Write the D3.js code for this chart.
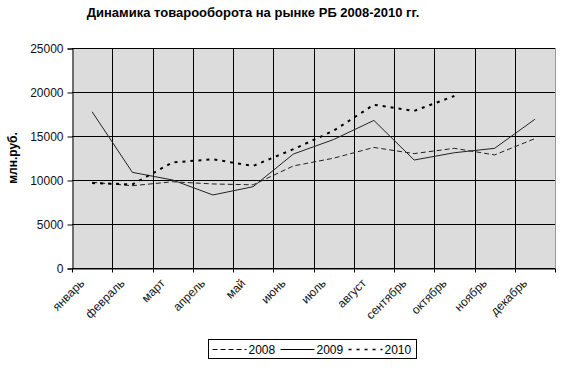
<!DOCTYPE html>
<html>
<head>
<meta charset="utf-8">
<script src="https://cdn.jsdelivr.net/npm/d3@7"></script>
<style>
body { margin: 0; background: #fff; }
text { font-family: "Liberation Sans", Arial, sans-serif; }
</style>
</head>
<body>
<div id="chart"></div>
<script>
const months = ['январь', 'февраль', 'март', 'апрель', 'май', 'июнь', 'июль', 'август', 'сентябрь', 'октябрь', 'ноябрь', 'декабрь']
const yTicks = [0, 5000, 10000, 15000, 20000, 25000]

const s2008 = [9740, 9350, 9800, 9550, 9450, 11600, 12480, 13700, 13000, 13600, 12850, 14700]
const s2009 = [17750, 10870, 10000, 8300, 9240, 12950, 14600, 16770, 12270, 13100, 13600, 16900]
const s2010 = [9650, 9500, 12000, 12350, 11600, 13500, 15600, 18550, 17850, 19550, null, null]

const series = [
    { name: '2008', values: s2008, dash: '5,3' },
    { name: '2009', values: s2009, dash: null },
    { name: '2010', values: s2010, dash: '3,5' }
]

const W = 572, H = 369
const margin = { left: 72, right: 17, top: 48, bottom: 101 }

const svg = d3.select('#chart').append('svg')
    .attr('width', W)
    .attr('height', H)

const x = d3.scaleBand()
    .domain(months)
    .range([margin.left, W - margin.right])

const y = d3.scaleLinear()
    .domain([0, 25000])
    .range([H - margin.bottom, margin.top])

// plot background
svg.append('rect')
    .attr('x', margin.left)
    .attr('y', margin.top)
    .attr('width', x.range()[1] - margin.left)
    .attr('height', y(0) - margin.top)
    .attr('fill', '#dcdcdc')

// horizontal grid
svg.append('g').selectAll('line').data(yTicks)
    .enter().append('line')
    .attr('x1', margin.left).attr('x2', x.range()[1])
    .attr('y1', d => Math.round(y(d)) + 0.5).attr('y2', d => Math.round(y(d)) + 0.5)
    .attr('stroke', '#000')

// vertical grid at category boundaries
const bounds = months.map(m => x(m)).concat([x.range()[1]])
svg.append('g').selectAll('line').data(bounds.slice(1))
    .enter().append('line')
    .attr('x1', d => Math.round(d) + 0.5).attr('x2', d => Math.round(d) + 0.5)
    .attr('y1', margin.top).attr('y2', y(0))
    .attr('stroke', d => d === x.range()[1] ? '#999' : '#000')

// y axis
const yAxis = svg.append('g')
    .attr('transform', `translate(${margin.left + 0.5},0.5)`)
    .call(d3.axisLeft(y).tickValues(yTicks).tickSize(5).tickPadding(4).tickFormat(d3.format('d')))
yAxis.select('.domain').attr('stroke', '#000')
yAxis.selectAll('text').attr('font-size', 12).attr('fill', '#111')

// x axis
const xAxis = svg.append('g')
    .attr('transform', `translate(0,${Math.round(y(0)) + 0.5})`)
    .call(d3.axisBottom(x).tickSize(0).tickFormat(''))
xAxis.select('.domain').attr('stroke', '#000')
xAxis.selectAll('.bt').data(bounds).enter().append('line')
    .attr('x1', d => Math.round(d) + 0.5).attr('x2', d => Math.round(d) + 0.5)
    .attr('y1', 0).attr('y2', 4)
    .attr('stroke', '#000')

svg.append('g').selectAll('text').data(months)
    .enter().append('text')
    .attr('transform', d => `translate(${x(d) + x.bandwidth() / 2 - 10},${y(0) + 13}) rotate(-45)`)
    .attr('text-anchor', 'end')
    .attr('dy', '0.35em')
    .attr('font-size', 12)
    .attr('fill', '#111')
    .text(d => d)

// lines
const line = d3.line()
    .defined(d => d != null)
    .x((d, i) => x(months[i]) + x.bandwidth() / 2)
    .y(d => y(d))

svg.append('g').selectAll('path').data(series)
    .enter().append('path')
    .attr('d', d => line(d.values))
    .attr('fill', 'none')
    .attr('stroke', d => d.name === '2010' ? '#000' : '#222')
    .attr('stroke-width', d => d.name === '2010' ? 2 : 1)
    .attr('stroke-dasharray', d => d.dash)

// title
svg.append('text')
    .attr('x', 253).attr('y', 17)
    .attr('text-anchor', 'middle')
    .attr('font-size', 13)
    .attr('font-weight', 'bold')
    .text('Динамика товарооборота на рынке РБ 2008-2010 гг.')

// y label
svg.append('text')
    .attr('transform', `translate(17,${(margin.top + y(0)) / 2}) rotate(-90)`)
    .attr('text-anchor', 'middle')
    .attr('font-size', 12)
    .attr('font-weight', 'bold')
    .text('млн.руб.')

// legend
const lg = svg.append('g').attr('transform', 'translate(208.5,339.5)')
lg.append('rect')
    .attr('width', 208).attr('height', 19)
    .attr('fill', '#fff').attr('stroke', '#000')

const item = lg.selectAll('.item').data(series)
    .enter().append('g')
    .attr('transform', (d, i) => `translate(${4 + i * 68},0)`)
item.append('line')
    .attr('x1', 0).attr('x2', 34)
    .attr('y1', 10).attr('y2', 10)
    .attr('stroke', '#000')
    .attr('stroke-width', d => d.name === '2010' ? 1.5 : 1)
    .attr('stroke-dasharray', d => d.dash)
item.append('text')
    .attr('x', 36).attr('y', 14)
    .attr('font-size', 12)
    .text(d => d.name)
</script>
</body>
</html>
